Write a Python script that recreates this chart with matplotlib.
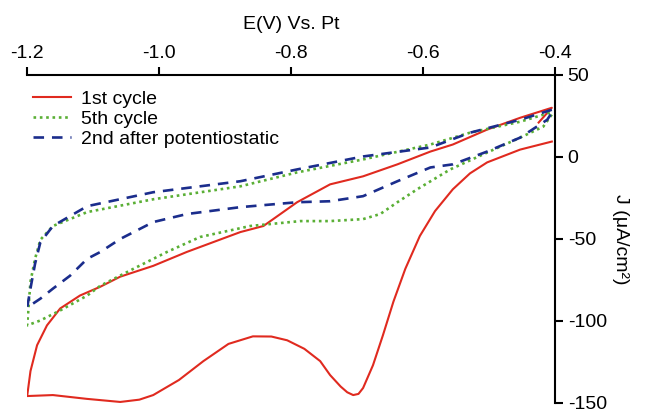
import numpy as np
import matplotlib
matplotlib.use("Agg")
import matplotlib.pyplot as plt

plt.rcParams['font.family'] = ['Liberation Sans', 'DejaVu Sans']
plt.rcParams['axes.unicode_minus'] = False

# 1st cycle: start near -0.42 V, up to -0.4, upper branch to -1.2, lower branch back
E_1st = [-0.425, -0.405, -0.453, -0.503, -0.555, -0.589, -0.639, -0.691, -0.741,
         -0.791, -0.842, -0.877, -0.958, -1.009, -1.059, -1.089, -1.120, -1.150,
         -1.170, -1.185, -1.195, -1.200,
         -1.161, -1.110, -1.059, -1.030, -1.009, -0.970, -0.933, -0.895, -0.858,
         -0.830, -0.806, -0.780, -0.756, -0.741, -0.725, -0.715, -0.706, -0.698,
         -0.691, -0.676, -0.661, -0.645, -0.627, -0.605, -0.582, -0.555, -0.529,
         -0.503, -0.453, -0.405]
J_1st = [21.0, 30.0, 23.9, 16.7, 7.6, 3.3, -4.5, -11.8, -16.7,
         -27.6, -42.1, -45.8, -57.9, -66.4, -73.0, -79.1, -84.5, -92.4,
         -102.7, -114.8, -130.6, -145.8,
         -145.2, -147.5, -149.4, -148.0, -145.2, -136.0, -124.5, -114.0, -109.4,
         -109.5, -111.8, -117.0, -124.5, -133.0, -140.0, -143.5, -145.2, -144.5,
         -140.9, -127.0, -108.8, -88.2, -68.2, -48.2, -33.0, -19.7, -10.0,
         -3.3, 4.5, 9.4]

# 5th cycle: upper branch from -0.4 to -1.2, then lower branch back
E_5th = [-0.408, -0.453, -0.529, -0.589, -0.691, -0.791, -0.877, -1.009, -1.109,
         -1.161, -1.180, -1.188, -1.195, -1.200,
         -1.180, -1.150, -1.109, -1.089, -1.039, -0.988, -0.938, -0.862, -0.786,
         -0.741, -0.691, -0.665, -0.639, -0.609, -0.559, -0.503, -0.453, -0.418, -0.403]
J_5th = [27.0, 21.5, 14.8, 7.6, -1.5, -9.4, -17.9, -25.8, -33.6,
         -42.1, -50.5, -62.0, -76.0, -102.7,
         -99.7, -93.6, -84.5, -78.5, -68.2, -57.9, -48.8, -42.1, -39.1,
         -39.1, -37.9, -34.8, -27.6, -19.7, -7.6, 2.7, 11.8, 18.5, 27.0]

# 2nd cycle after potentiostatic step
E_2nd = [-0.405, -0.453, -0.529, -0.589, -0.691, -0.791, -0.877, -1.009, -1.109,
         -1.161, -1.180, -1.188, -1.194, -1.200,
         -1.180, -1.161, -1.135, -1.109, -1.089, -1.059, -1.009, -0.958, -0.877,
         -0.791, -0.741, -0.691, -0.639, -0.589, -0.555, -0.503, -0.453, -0.412, -0.405]
J_2nd = [28.8, 22.7, 14.8, 5.8, 0.3, -7.6, -14.8, -21.5, -30.0,
         -42.1, -52.0, -65.0, -78.0, -91.8,
         -86.4, -80.3, -72.4, -62.1, -57.9, -50.0, -39.7, -34.8, -30.6,
         -27.6, -27.0, -23.9, -14.8, -6.4, -4.5, 3.3, 11.8, 22.7, 27.0]

x_ticks = [-1.2, -1.0, -0.8, -0.6, -0.4]
y_ticks = [-150, -100, -50, 0, 50]

fig = plt.figure(figsize=(6.47, 4.12), dpi=100)
ax = fig.add_axes([0.042, 0.022, 0.816, 0.796])

ax.plot(E_1st, J_1st, color='#e02a1f', lw=1.5, label='1st cycle')
ax.plot(E_5th, J_5th, color='#5aaf35', lw=1.9, linestyle=(0, (1, 1.4)), label='5th cycle')
ax.plot(E_2nd, J_2nd, color='#1b2d8c', lw=1.9, linestyle=(0, (4, 3)),
        label='2nd after potentiostatic')

ax.set_xlim(-1.2, -0.4)
ax.set_ylim(-150, 50)
ax.set_xticks(x_ticks)
ax.set_xticklabels([f'{t:.1f}' for t in x_ticks])
ax.set_yticks(y_ticks)

ax.spines['left'].set_visible(False)
ax.spines['bottom'].set_visible(False)
for s in ('top', 'right'):
    ax.spines[s].set_linewidth(1.5)

ax.xaxis.tick_top()
ax.xaxis.set_label_position('top')
ax.yaxis.tick_right()
ax.yaxis.set_label_position('right')
ax.tick_params(direction='out', length=6, width=1.5, labelsize=14, pad=3)

ax.set_xlabel('E(V) Vs. Pt', fontsize=14, labelpad=12)
ax.set_ylabel('J (μA/cm²)', fontsize=14, rotation=270, labelpad=16)

ax.legend(loc='upper left', bbox_to_anchor=(-0.012, 0.99), frameon=False, fontsize=14,
          handlelength=2.0, handletextpad=0.5, labelspacing=0.14, borderaxespad=0.2)

fig.savefig('out.png', dpi=100)
